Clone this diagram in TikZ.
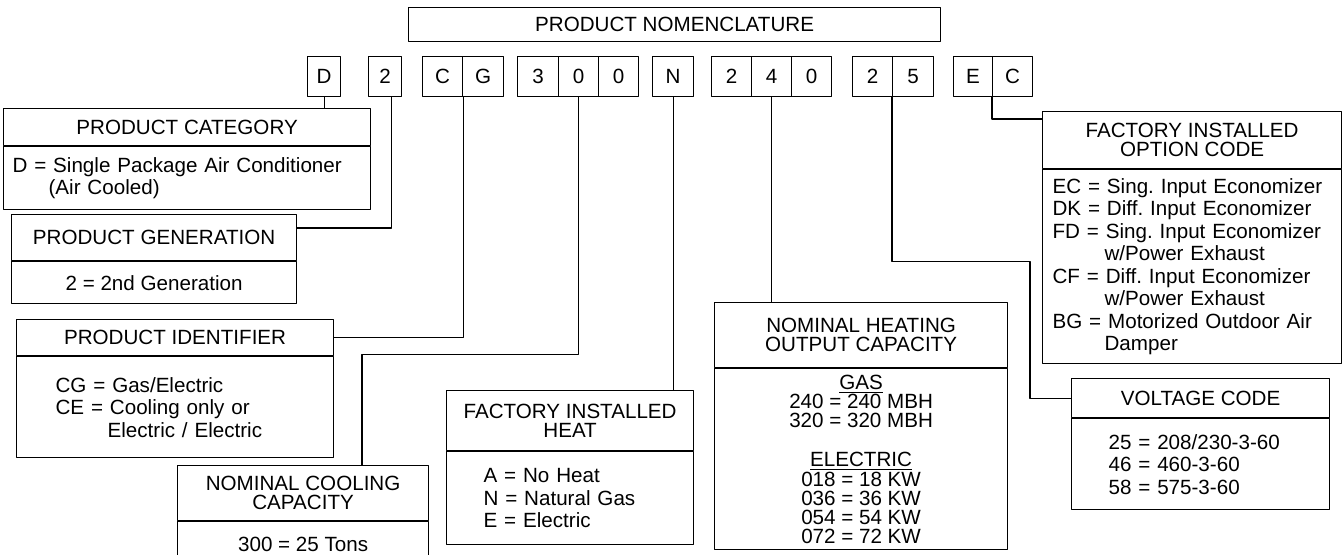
\documentclass[tikz,border=0pt]{standalone}
\usepackage{fontspec}
\setmainfont{Liberation Sans}
\usetikzlibrary{calc}
\frenchspacing

\begin{document}
\begin{tikzpicture}[
			x=0.5pt, y=-0.5pt,
			every node/.style={font=\fontsize{10.3}{11.25}\selectfont},
			line cap=round,
			line join=round,
			cell/.style={draw, line width=0.6pt, anchor=north west, minimum height=20pt, inner sep=0pt},
			headbox/.style={draw, line width=0.6pt, anchor=north west, align=center, inner sep=0pt, font=\fontsize{10.3}{9.5}\selectfont},
			bodybox/.style={draw, line width=0.6pt, anchor=north west, inner ysep=0pt},
			link/.style={line width=0.6pt}
			]
			\useasboundingbox (0,0) rectangle (1342,554);
			
			% Title
			\node[headbox, minimum width=266pt, minimum height=17pt] (title) at (408,7) {PRODUCT NOMENCLATURE};
			
			% Code letters
			\foreach \n/\x/\w/\t in {d/307/16.5/D, gen2/368/16.5/2, idC/422/20/C, idG/462/20.5/G,
				cap3/517/20.5/3, cap0a/558/20/0, cap0b/598/20/0, heatN/652/20.5/N,
				out2/711/20/2, out4/751/20/4, out0/791/20/0, volt2/852/20/2, volt5/892/20.5/5,
				optE/953/19.5/E, optC/992/20/C}
			\node[cell, minimum width=\w pt] (\n) at (\x,56) {\t};
			
			% Product category
			\node[headbox, minimum width=183.5pt, minimum height=18.5pt] (catT) at (3,108) {PRODUCT CATEGORY};
			\node[bodybox, align=left, text width=174.5pt, inner xsep=4.5pt, minimum height=31.5pt] (catB) at (catT.south west)
				{D = Single Package Air Conditioner\\\hspace*{18pt}(Air Cooled)};
			
			% Product generation
			\node[headbox, minimum width=142.5pt, minimum height=23pt] (genT) at (11,214) {PRODUCT GENERATION};
			\node[bodybox, align=center, minimum width=142.5pt, minimum height=21pt] (genB) at (genT.south west)
				{2 = 2nd Generation};
			
			% Product identifier
			\node[headbox, minimum width=158.5pt, minimum height=18pt] (idT) at (16,319) {PRODUCT IDENTIFIER};
			\node[bodybox, align=left, text width=119.5pt, inner xsep=19.5pt, minimum height=50.5pt] (idB) at (idT.south west)
				{CG = Gas/Electric\\CE = Cooling only or\\\hspace*{26pt}Electric / Electric};
			
			% Nominal cooling capacity
			\node[headbox, minimum width=125.5pt, minimum height=27.5pt] (coolT) at (177,465) {NOMINAL COOLING\\CAPACITY};
			\node[bodybox, align=center, minimum width=125.5pt, minimum height=23pt] (coolB) at (coolT.south west)
				{300 = 25 Tons};
			
			% Factory installed heat
			\node[headbox, minimum width=123.5pt, minimum height=30pt] (heatT) at (446,390) {FACTORY INSTALLED\\HEAT};
			\node[bodybox, align=left, text width=86.5pt, inner xsep=18.5pt, minimum height=46.5pt] (heatB) at (heatT.south west)
				{A = No Heat\\N = Natural Gas\\E = Electric};
			
			% Nominal heating output capacity
			\node[headbox, minimum width=146.5pt, minimum height=32.5pt] (hcapT) at (714,302) {NOMINAL HEATING\\OUTPUT CAPACITY};
			\node[bodybox, align=center, minimum width=146.5pt, minimum height=90.5pt, font=\fontsize{10.3}{9.6}\selectfont] (hcapB) at (hcapT.south west)
				{\underline{GAS}\\240 = 240 MBH\\320 = 320 MBH\\[10pt]\underline{ELECTRIC}\\018 = 18 KW\\036 = 36 KW\\054 = 54 KW\\072 = 72 KW};
			
			% Factory installed option code
			\node[headbox, minimum width=149.5pt, minimum height=28.5pt] (optT) at (1042,111) {FACTORY INSTALLED\\OPTION CODE};
			\node[bodybox, align=left, text width=139.5pt, inner xsep=5pt, minimum height=97pt] (optB) at (optT.south west)
				{EC = Sing. Input Economizer\\DK = Diff. Input Economizer\\FD = Sing. Input Economizer\\\hspace*{26pt}w/Power Exhaust\\
				CF = Diff. Input Economizer\\\hspace*{26pt}w/Power Exhaust\\BG = Motorized Outdoor Air\\\hspace*{26pt}Damper};
			
			% Voltage code
			\node[headbox, minimum width=129pt, minimum height=19.5pt] (voltT) at (1071,378) {VOLTAGE CODE};
			\node[bodybox, align=left, text width=92pt, inner xsep=18.5pt, minimum height=45.5pt] (voltB) at (voltT.south west)
				{25 = 208/230-3-60\\46 = 460-3-60\\58 = 575-3-60};
			
			% Leaders
			\draw[link] (d.south) -- (d.south |- catT.north);
			\draw[link] ([xshift=3pt]gen2.south) |- ($(genT.north east)+(0,14)$);
			\draw[link] (idC.south east) |- (idT.east);
			\draw[link] (cap0a.south) -- ++(0,257) -| ($(coolT.north west)+(185,0)$);
			\draw[link] (heatN.south) -- (heatN.south |- heatT.north);
			\draw[link] (out4.south) -- (out4.south |- hcapT.north);
			\draw[link] (volt5.south west) -- ++(0,164) -- ++(138,0) |- (voltT.west);
			\draw[link] (optC.south west) |- ($(optT.north west)+(0,8)$);
		\end{tikzpicture}
\end{document}
